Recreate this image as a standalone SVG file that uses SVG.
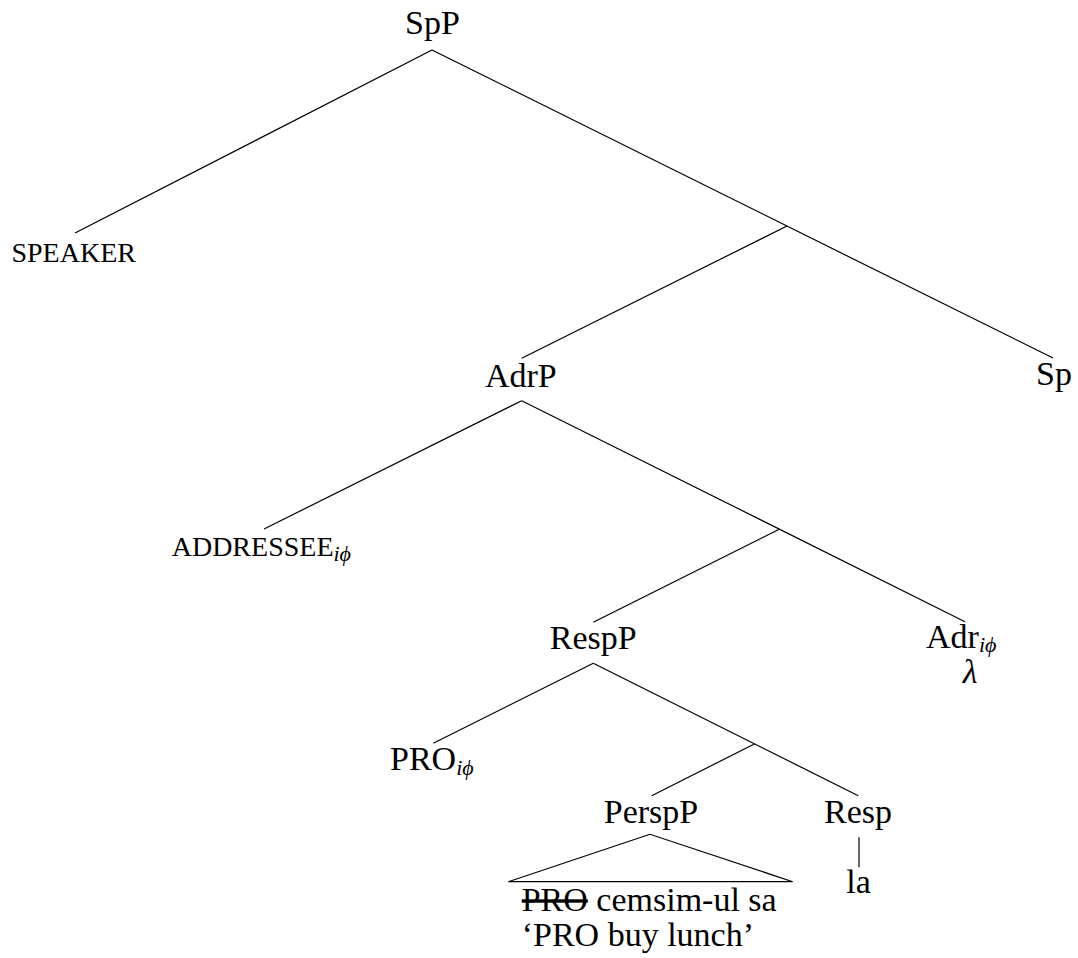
<svg xmlns="http://www.w3.org/2000/svg" width="1078" height="958" viewBox="0 0 1078 958">
<style>
text{font-family:"Liberation Serif","Times New Roman",serif;fill:#000;font-size:34px}
.sc{font-size:28px}
.sub{font-size:22px;font-style:italic}
.it{font-style:italic}
.e{stroke:#000;stroke-width:1.2;fill:none}
</style>
<rect width="1078" height="958" fill="#fff"/>
<g id="connectors">
<line class="e" x1="432" y1="50" x2="75" y2="233"/>
<line class="e" x1="432" y1="50" x2="1053" y2="358"/>
<line class="e" x1="787" y1="226" x2="521.7" y2="358.3"/>
<line class="e" x1="521.7" y1="400.7" x2="264" y2="529"/>
<line class="e" x1="521.7" y1="400.7" x2="965" y2="621.7"/>
<line class="e" x1="779.3" y1="529.3" x2="593.3" y2="622.3"/>
<line class="e" x1="593.3" y1="663.3" x2="433.3" y2="743.3"/>
<line class="e" x1="593.3" y1="663.3" x2="858.3" y2="795.7"/>
<line class="e" x1="754.3" y1="744" x2="651.7" y2="795.7"/>
<line class="e" x1="859" y1="837.3" x2="859" y2="867.3"/>
<polygon class="e" points="650,834.3 508.3,881.7 792.7,881.7"/>
</g>
<g id="n-SpP"><text x="432.5" y="34" text-anchor="middle">SpP</text></g>
<g id="n-speaker"><text class="sc" x="73.7" y="261.7" text-anchor="middle">SPEAKER</text></g>
<g id="n-AdrP"><text x="520.8" y="386.7" text-anchor="middle">AdrP</text></g>
<g id="n-Sp"><text x="1054" y="385" text-anchor="middle">Sp</text></g>
<g id="n-addressee"><text class="sc" x="171.7" y="556">ADDRESSEE<tspan class="sub" dy="5">iϕ</tspan></text></g>
<g id="n-RespP"><text x="593.3" y="649" text-anchor="middle">RespP</text></g>
<g id="n-Adr"><text x="926" y="648">Adr<tspan class="sub" dy="4">iϕ</tspan></text>
<text class="it" x="970" y="683" text-anchor="middle">λ</text></g>
<g id="n-PRO"><text x="390" y="770">PRO<tspan class="sub" dy="5">iϕ</tspan></text></g>
<g id="n-PerspP"><text x="651" y="822.7" text-anchor="middle">PerspP</text>
<text x="521.7" y="911"><tspan style="text-decoration:line-through">PRO</tspan> cemsim-ul sa</text>
<text x="521.7" y="946">‘PRO buy lunch’</text></g>
<g id="n-Resp"><text x="858" y="823" text-anchor="middle">Resp</text>
<text x="858.5" y="893.3" text-anchor="middle">la</text></g>
</svg>
